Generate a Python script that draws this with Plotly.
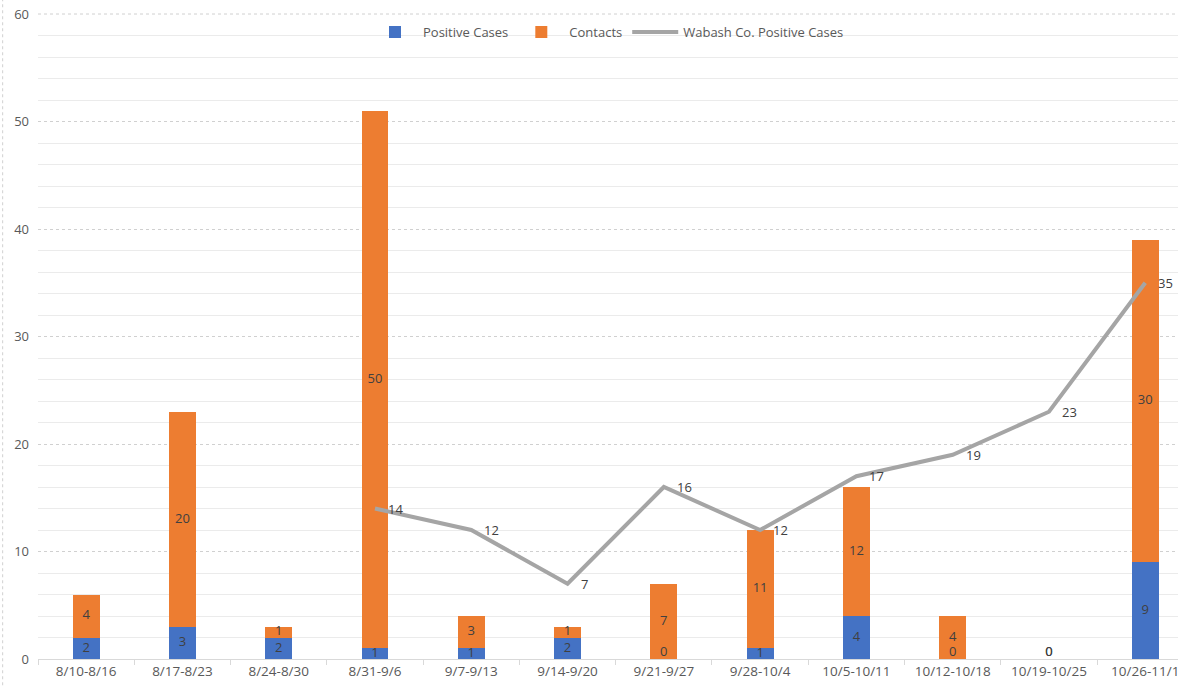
import plotly.graph_objects as go

weeks = ["8/10-8/16", "8/17-8/23", "8/24-8/30", "8/31-9/6", "9/7-9/13", "9/14-9/20",
         "9/21-9/27", "9/28-10/4", "10/5-10/11", "10/12-10/18", "10/19-10/25", "10/26-11/1"]
positive = [2, 3, 2, 1, 1, 2, 0, 1, 4, 0, 0, 9]
contacts = [4, 20, 1, 50, 3, 1, 7, 11, 12, 4, 0, 30]
wabash = [None, None, None, 14, 12, 7, 16, 12, 17, 19, 23, 35]

BLUE = "#4472C4"
ORANGE = "#ED7D31"
GRAY = "#A5A5A5"
TXT = "#404040"
AX = "#595959"
FONT = "Open Sans"

fig = go.Figure()
fig.add_trace(go.Bar(x=weeks, y=positive, name="Positive Cases", marker_color=BLUE,
                     marker_line_width=0, width=0.28))
fig.add_trace(go.Bar(x=weeks, y=contacts, name="Contacts", marker_color=ORANGE,
                     marker_line_width=0, width=0.28))
fig.add_trace(go.Scatter(x=weeks, y=wabash, name="Wabash Co. Positive Cases", mode="lines",
                         line=dict(color=GRAY, width=4)))

# line data labels (to the right of points)
for w, v in zip(weeks, wabash):
    if v is not None:
        fig.add_annotation(x=w, y=v, text=str(v), showarrow=False, xanchor="left",
                           xshift=11, font=dict(color=TXT, size=13, family=FONT))

# data labels for bars
pos_mid = [p / 2 for p in positive]
con_mid = [p + c / 2 for p, c in zip(positive, contacts)]
pos_tp = ["top center" if p == 0 else "middle center" for p in positive]
con_tp = ["top center" if c == 0 else "middle center" for c in contacts]
fig.add_trace(go.Scatter(x=weeks, y=pos_mid, mode="text", text=[str(v) for v in positive],
                         textposition=pos_tp,
                         textfont=dict(color=TXT, size=13, family=FONT), showlegend=False, hoverinfo="skip"))
fig.add_trace(go.Scatter(x=weeks, y=con_mid, mode="text", text=[str(v) for v in contacts],
                         textposition=con_tp,
                         textfont=dict(color=TXT, size=13, family=FONT), showlegend=False, hoverinfo="skip"))

fig.update_layout(
    width=1178, height=688, barmode="stack",
    margin=dict(l=38, r=0, t=14, b=29),
    paper_bgcolor="white", plot_bgcolor="white",
    font=dict(family=FONT, size=13, color=AX),
    legend=dict(orientation="h", x=0.5, xanchor="center", y=0.972, yanchor="middle",
                font=dict(size=13, color=AX), bgcolor="rgba(0,0,0,0)",
                traceorder="normal", itemwidth=46),
    showlegend=True,
)
fig.update_xaxes(type="category", range=[-0.5, 11.34], showline=True, linecolor="#D9D9D9",
                 linewidth=1, ticks="outside", tickson="boundaries", tickcolor="#D9D9D9",
                 ticklen=5, showgrid=False, automargin=False, ticklabeloverflow="allow",
                 tickfont=dict(size=13.5, color=AX, family=FONT))
fig.update_yaxes(range=[0, 60], dtick=10, showgrid=True, gridcolor="#D0D0D0", griddash="dot",
                 zeroline=False, showline=False, automargin=False, ticklabelstandoff=8,
                 ticklabeloverflow="allow",
                 tickfont=dict(size=13, color=AX, family=FONT),
                 minor=dict(dtick=2, showgrid=True, gridcolor="#EBEBEB", griddash="solid"))
# left chart-border and top gridline
fig.add_shape(type="line", xref="paper", yref="paper", x0=-0.031, x1=-0.031, y0=-0.05, y1=1.03,
              line=dict(color="#D0D0D0", width=1, dash="dot"))
fig.add_shape(type="line", xref="paper", yref="paper", x0=0, x1=1, y0=1, y1=1,
              line=dict(color="#D0D0D0", width=1, dash="dot"), layer="below")

fig.write_html("out.html", config={"displayModeBar": False},
               post_script="document.body.style.margin='0';document.body.style.overflow='hidden';"
                           "document.documentElement.style.overflow='hidden';")
